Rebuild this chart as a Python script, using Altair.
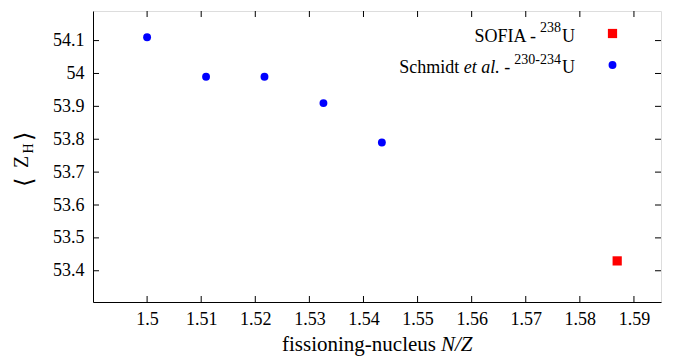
import altair as alt
import pandas as pd

# ---- data ----
schmidt_nz = [1.5, 1.5109, 1.5217, 1.5326, 1.5434]
schmidt_zh = [54.11, 53.99, 53.99, 53.91, 53.79]
sofia_nz = [1.5869]
sofia_zh = [53.43]
x_ticks = [1.5, 1.51, 1.52, 1.53, 1.54, 1.55, 1.56, 1.57, 1.58, 1.59]
y_ticks = [53.4, 53.5, 53.6, 53.7, 53.8, 53.9, 54.0, 54.1]

SERIF = "Liberation Serif"
W, H = 568, 291
XDOM = [1.49, 1.595]
YDOM = [53.305, 54.19]

xs = alt.Scale(domain=XDOM, nice=False, zero=False)
ys = alt.Scale(domain=YDOM, nice=False, zero=False)

x_axis = alt.Axis(values=x_ticks, format="~g", ticks=False, grid=False, title=None,
                  labelFont=SERIF, labelFontSize=18, labelColor="black",
                  labelPadding=8, domainColor="black", domainWidth=1)
y_axis = alt.Axis(values=y_ticks, format="~g", ticks=False, grid=False, title=None,
                  labelFont=SERIF, labelFontSize=18, labelColor="black",
                  labelPadding=9, domainColor="black", domainWidth=1)

df_s = pd.DataFrame({"nz": schmidt_nz, "zh": schmidt_zh})
df_f = pd.DataFrame({"nz": sofia_nz, "zh": sofia_zh})
df_xt = pd.DataFrame({"v": x_ticks})
df_yt = pd.DataFrame({"v": y_ticks})
one = pd.DataFrame({"a": [0]})

blue = alt.Chart(df_s).mark_circle(size=62, color="#0000ff", opacity=1).encode(
    x=alt.X("nz:Q", scale=xs, axis=x_axis),
    y=alt.Y("zh:Q", scale=ys, axis=y_axis),
)
red = alt.Chart(df_f).mark_square(size=85, color="#ff0000", opacity=1).encode(
    x=alt.X("nz:Q", scale=xs),
    y=alt.Y("zh:Q", scale=ys),
)

TL = 6
xt_bot = alt.Chart(df_xt).mark_rule(color="black", strokeWidth=1).encode(
    x=alt.X("v:Q", scale=xs), y=alt.value(H), y2=alt.value(H - TL))
xt_top = alt.Chart(df_xt).mark_rule(color="black", strokeWidth=1).encode(
    x=alt.X("v:Q", scale=xs), y=alt.value(0), y2=alt.value(TL))
yt_left = alt.Chart(df_yt).mark_rule(color="black", strokeWidth=1).encode(
    y=alt.Y("v:Q", scale=ys), x=alt.value(0), x2=alt.value(TL))
yt_right = alt.Chart(df_yt).mark_rule(color="black", strokeWidth=1).encode(
    y=alt.Y("v:Q", scale=ys), x=alt.value(W), x2=alt.value(W - TL))


def txt(s, x, y, size=18, align="left", baseline="alphabetic", style="normal", angle=0, font=SERIF):
    return alt.Chart(one).mark_text(
        text=s, align=align, baseline=baseline, font=font, fontSize=size,
        fontStyle=style, angle=angle, color="black",
    ).encode(x=alt.value(x), y=alt.value(y))


# legend (symbols on the right, as in the reference)
leg_sq = alt.Chart(one).mark_square(size=85, color="#ff0000", opacity=1).encode(
    x=alt.value(519.5), y=alt.value(22.5))
leg_ci = alt.Chart(one).mark_circle(size=62, color="#0000ff", opacity=1).encode(
    x=alt.value(519.5), y=alt.value(54))

legend = [
    txt("U", 482, 30.5, align="right"),
    txt("238", 468, 21, size=14, align="right"),
    txt("SOFIA -", 443, 30.5, align="right"),
    txt("U", 482, 62.3, align="right"),
    txt("230-234", 468, 52.5, size=14, align="right"),
    txt("-", 417.3, 62.3, align="right"),
    txt("et al.", 406.8, 62.3, align="right", style="italic"),
    txt("Schmidt", 366.3, 62.3, align="right"),
]

# axis titles
titles = [
    txt("fissioning-nucleus", 343, 340, size=21, align="right"),
    txt("N/Z", 348, 340, size=21, style="italic"),
    txt("\u27e8", -68, 171, size=24, align="center", baseline="middle", angle=270),
    txt("Z", -65.5, 151, size=20, align="center", angle=270),
    txt("H", -60, 137.5, size=14, align="center", angle=270),
    txt("\u27e9", -68, 125, size=24, align="center", baseline="middle", angle=270),
]

chart = alt.layer(
    blue, red, xt_bot, xt_top, yt_left, yt_right, leg_sq, leg_ci, *legend, *titles
).properties(
    width=W, height=H,
    autosize=alt.AutoSizeParams(type="none"),
    padding={"left": 93, "top": 11, "right": 19, "bottom": 54},
).configure_view(
    stroke="black", strokeWidth=1
).configure(background="white")

chart.save("out.html", embed_options={"renderer": "svg", "actions": False})
